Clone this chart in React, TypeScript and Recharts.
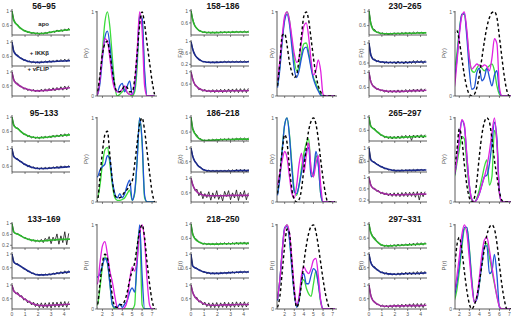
import { LineChart, Line, XAxis, YAxis } from "recharts";

// time axis of the DEER traces (µs) and distance axis of the P(r) curves (nm)
const traceTimes = [0, 0.15, 0.3, 0.45, 0.6, 0.75, 0.9, 1.05, 1.2, 1.35, 1.5, 1.65, 1.8, 1.95, 2.1, 2.25, 2.4, 2.55, 2.7, 2.85, 3, 3.15, 3.3, 3.45, 3.6, 3.75, 3.9, 4.05, 4.2, 4.35];
const fitTimes = [0, 0.1, 0.2, 0.35, 0.5, 0.75, 1, 1.5, 2, 2.5, 3, 3.5, 4, 4.45];
const distances = [1.25, 1.5, 1.75, 2, 2.25, 2.5, 2.75, 3, 3.25, 3.5, 3.75, 4, 4.25, 4.5, 4.75, 5, 5.25, 5.5, 5.75, 6, 6.25, 6.5, 6.75, 7, 7.25];

const sampleNames = ["apo", "+ IKKβ", "+ vFLIP"];
const timeTicks = [0, 1, 2, 3, 4];
const distTicks = [2, 3, 4, 5, 6, 7];

// ---- 56–95 ----
const raw56 = [
  [1, 0.76, 0.64, 0.62, 0.53, 0.52, 0.45, 0.46, 0.41, 0.42, 0.38, 0.41, 0.37, 0.4, 0.36, 0.4, 0.37, 0.41, 0.38, 0.43, 0.4, 0.45, 0.41, 0.48, 0.43, 0.49, 0.44, 0.51, 0.45, 0.53],
  [1, 0.75, 0.66, 0.64, 0.56, 0.56, 0.49, 0.51, 0.45, 0.48, 0.43, 0.47, 0.42, 0.46, 0.42, 0.47, 0.43, 0.48, 0.43, 0.49, 0.44, 0.49, 0.45, 0.51, 0.45, 0.52, 0.46, 0.53, 0.46, 0.54],
  [1, 0.78, 0.68, 0.67, 0.58, 0.58, 0.5, 0.53, 0.46, 0.5, 0.44, 0.49, 0.42, 0.48, 0.42, 0.5, 0.43, 0.51, 0.44, 0.52, 0.45, 0.54, 0.45, 0.55, 0.47, 0.57, 0.47, 0.59, 0.48, 0.6],
];
const fit56 = [
  [1, 0.78, 0.7, 0.64, 0.58, 0.5, 0.45, 0.4, 0.38, 0.39, 0.42, 0.45, 0.47, 0.49],
  [1, 0.78, 0.7, 0.64, 0.6, 0.54, 0.5, 0.45, 0.44, 0.45, 0.46, 0.47, 0.48, 0.49],
  [1, 0.8, 0.72, 0.66, 0.62, 0.56, 0.52, 0.47, 0.45, 0.46, 0.48, 0.5, 0.52, 0.54],
];
const pr56 = [
  [0, 0.02, 0.2, 0.55, 0.88, 1.0, 0.82, 0.45, 0.12, 0, 0.02, 0.05, 0.08, 0.04, 0.02, 0, 0.05, 0.35, 0.97, 0.9, 0.25, 0, 0, 0, 0],
  [0, 0.02, 0.15, 0.45, 0.7, 0.77, 0.6, 0.3, 0.1, 0.05, 0.12, 0.15, 0.05, 0.12, 0.18, 0.02, 0.1, 0.45, 0.95, 0.92, 0.3, 0, 0, 0, 0],
  [0, 0.02, 0.2, 0.5, 0.68, 0.65, 0.45, 0.2, 0.08, 0.05, 0.05, 0.08, 0.12, 0.04, 0.02, 0.02, 0.15, 0.55, 1.0, 0.78, 0.12, 0, 0, 0, 0],
  [0, 0.05, 0.25, 0.5, 0.62, 0.65, 0.5, 0.3, 0.12, 0.05, 0.05, 0.08, 0.12, 0.1, 0.05, 0.05, 0.2, 0.5, 0.85, 1.0, 0.85, 0.62, 0.4, 0.18, 0.02],
];

// ---- 95–133 (no vFLIP data) ----
const raw95 = [
  [1, 0.79, 0.69, 0.7, 0.62, 0.6, 0.52, 0.53, 0.46, 0.49, 0.42, 0.46, 0.41, 0.45, 0.4, 0.46, 0.42, 0.47, 0.42, 0.48, 0.43, 0.5, 0.44, 0.51, 0.45, 0.53, 0.46, 0.54, 0.47, 0.55],
  [1, 0.83, 0.76, 0.77, 0.7, 0.71, 0.64, 0.65, 0.59, 0.62, 0.56, 0.59, 0.54, 0.57, 0.53, 0.57, 0.53, 0.58, 0.54, 0.58, 0.54, 0.59, 0.55, 0.6, 0.55, 0.61, 0.56, 0.61, 0.57, 0.62],
];
const fit95 = [
  [1, 0.8, 0.74, 0.7, 0.66, 0.58, 0.52, 0.45, 0.43, 0.44, 0.46, 0.48, 0.5, 0.51],
  [1, 0.84, 0.8, 0.77, 0.74, 0.69, 0.64, 0.58, 0.55, 0.55, 0.56, 0.57, 0.58, 0.59],
];
const pr95 = [
  [0.05, 0.05, 0.2, 0.45, 0.62, 0.65, 0.45, 0.2, 0.05, 0.02, 0.02, 0.03, 0.05, 0.1, 0.14, 0.02, 0.1, 0.5, 1.0, 0.7, 0.05, 0, 0, 0, 0],
  [0.3, 0.3, 0.38, 0.42, 0.45, 0.55, 0.5, 0.25, 0.1, 0.05, 0.1, 0.05, 0.1, 0.2, 0.26, 0.02, 0.12, 0.5, 1.0, 0.72, 0.08, 0, 0, 0, 0],
  null,
  [0, 0.02, 0.3, 0.6, 0.8, 0.84, 0.55, 0.25, 0.08, 0.05, 0.05, 0.08, 0.12, 0.15, 0.2, 0.25, 0.45, 0.7, 0.92, 1.0, 0.85, 0.6, 0.35, 0.12, 0],
];

// ---- 133–169 ----
const raw133 = [
  [1, 0.7, 0.62, 0.63, 0.56, 0.55, 0.47, 0.48, 0.41, 0.43, 0.36, 0.4, 0.33, 0.39, 0.32, 0.42, 0.3, 0.46, 0.35, 0.52, 0.26, 0.5, 0.36, 0.62, 0.24, 0.55, 0.3, 0.7, 0.22, 0.64],
  [1, 0.78, 0.7, 0.72, 0.65, 0.64, 0.56, 0.56, 0.49, 0.5, 0.43, 0.45, 0.39, 0.41, 0.37, 0.41, 0.37, 0.42, 0.38, 0.43, 0.38, 0.45, 0.4, 0.47, 0.41, 0.49, 0.42, 0.51, 0.43, 0.52],
  [1, 0.84, 0.74, 0.78, 0.66, 0.69, 0.56, 0.6, 0.48, 0.54, 0.42, 0.5, 0.37, 0.47, 0.34, 0.48, 0.33, 0.48, 0.34, 0.49, 0.33, 0.5, 0.35, 0.5, 0.35, 0.51, 0.36, 0.52, 0.35, 0.52],
];
const fit133 = [
  [1, 0.72, 0.66, 0.63, 0.6, 0.53, 0.47, 0.39, 0.36, 0.37, 0.39, 0.41, 0.42, 0.43],
  [1, 0.8, 0.74, 0.71, 0.68, 0.62, 0.56, 0.45, 0.39, 0.39, 0.41, 0.44, 0.46, 0.48],
  [1, 0.85, 0.8, 0.76, 0.72, 0.65, 0.58, 0.47, 0.41, 0.4, 0.41, 0.42, 0.43, 0.44],
];
const pr133 = [
  [0.05, 0.05, 0.25, 0.5, 0.62, 0.55, 0.3, 0.05, 0, 0, 0, 0, 0, 0, 0, 0, 0.05, 0.7, 0.95, 0.05, 0, 0, 0, 0, 0],
  [0.38, 0.38, 0.42, 0.52, 0.6, 0.55, 0.3, 0.05, 0.02, 0.02, 0.06, 0.02, 0.06, 0.1, 0.2, 0.25, 0.2, 0.55, 1.0, 0.4, 0, 0, 0, 0, 0],
  [0.3, 0.3, 0.55, 0.75, 0.8, 0.65, 0.45, 0.32, 0.15, 0.02, 0, 0, 0.02, 0.1, 0.35, 0.5, 0.45, 0.6, 0.9, 1.0, 0.8, 0.35, 0.05, 0, 0],
  [0, 0.05, 0.3, 0.55, 0.65, 0.6, 0.4, 0.15, 0.03, 0.02, 0.05, 0.05, 0.1, 0.2, 0.35, 0.45, 0.55, 0.75, 0.92, 1.0, 0.85, 0.55, 0.3, 0.1, 0],
];

// ---- 158–186 ----
const raw158 = [
  [1, 0.7, 0.48, 0.42, 0.33, 0.34, 0.28, 0.31, 0.26, 0.3, 0.26, 0.3, 0.26, 0.3, 0.27, 0.31, 0.27, 0.31, 0.27, 0.31, 0.27, 0.32, 0.28, 0.32, 0.28, 0.32, 0.28, 0.33, 0.28, 0.33],
  [1, 0.72, 0.51, 0.45, 0.35, 0.35, 0.28, 0.3, 0.26, 0.29, 0.25, 0.29, 0.25, 0.3, 0.26, 0.3, 0.26, 0.31, 0.26, 0.31, 0.26, 0.31, 0.27, 0.31, 0.27, 0.32, 0.27, 0.32, 0.27, 0.32],
  [1, 0.75, 0.55, 0.53, 0.41, 0.45, 0.36, 0.43, 0.34, 0.41, 0.33, 0.42, 0.32, 0.42, 0.33, 0.43, 0.32, 0.43, 0.33, 0.44, 0.32, 0.44, 0.33, 0.45, 0.32, 0.45, 0.33, 0.45, 0.32, 0.46],
];
const fit158 = [
  [1, 0.75, 0.6, 0.47, 0.39, 0.32, 0.29, 0.28, 0.28, 0.29, 0.29, 0.3, 0.3, 0.3],
  [1, 0.78, 0.63, 0.5, 0.42, 0.33, 0.29, 0.27, 0.27, 0.28, 0.28, 0.28, 0.28, 0.29],
  [1, 0.8, 0.67, 0.56, 0.49, 0.42, 0.39, 0.37, 0.37, 0.37, 0.38, 0.38, 0.38, 0.39],
];
const pr158 = [
  [0.12, 0.35, 0.68, 0.92, 1.0, 0.9, 0.65, 0.42, 0.3, 0.35, 0.5, 0.62, 0.63, 0.52, 0.35, 0.22, 0.15, 0.08, 0.02, 0, 0, 0, 0, 0, 0],
  [0.1, 0.32, 0.65, 0.9, 0.97, 0.85, 0.58, 0.32, 0.22, 0.3, 0.45, 0.56, 0.58, 0.48, 0.33, 0.2, 0.12, 0.06, 0.01, 0, 0, 0, 0, 0, 0],
  [0.18, 0.42, 0.72, 0.95, 1.0, 0.9, 0.7, 0.5, 0.4, 0.45, 0.65, 0.83, 0.87, 0.7, 0.42, 0.25, 0.3, 0.43, 0.3, 0.02, 0, 0, 0, 0, 0],
  [0.12, 0.4, 0.72, 0.74, 0.6, 0.4, 0.28, 0.22, 0.25, 0.45, 0.72, 0.95, 1.0, 0.9, 0.68, 0.45, 0.25, 0.12, 0.05, 0, 0, 0, 0, 0, 0],
];

// ---- 186–218 ----
const raw186 = [
  [1, 0.69, 0.56, 0.52, 0.42, 0.42, 0.36, 0.39, 0.35, 0.4, 0.36, 0.41, 0.37, 0.41, 0.37, 0.42, 0.38, 0.42, 0.38, 0.43, 0.38, 0.43, 0.38, 0.44, 0.39, 0.44, 0.39, 0.44, 0.39, 0.44],
  [1, 0.75, 0.6, 0.55, 0.45, 0.44, 0.36, 0.37, 0.31, 0.36, 0.3, 0.36, 0.3, 0.36, 0.3, 0.36, 0.3, 0.36, 0.3, 0.37, 0.3, 0.37, 0.3, 0.38, 0.3, 0.38, 0.31, 0.38, 0.3, 0.38],
  [1, 0.82, 0.66, 0.7, 0.52, 0.64, 0.44, 0.58, 0.47, 0.63, 0.4, 0.6, 0.45, 0.66, 0.42, 0.55, 0.38, 0.64, 0.5, 0.66, 0.41, 0.6, 0.46, 0.68, 0.39, 0.62, 0.48, 0.66, 0.41, 0.6],
];
const fit186 = [
  [1, 0.72, 0.62, 0.53, 0.46, 0.4, 0.37, 0.38, 0.39, 0.4, 0.4, 0.41, 0.41, 0.41],
  [1, 0.8, 0.68, 0.58, 0.5, 0.42, 0.36, 0.33, 0.33, 0.33, 0.33, 0.34, 0.34, 0.34],
  [1, 0.85, 0.76, 0.67, 0.61, 0.56, 0.53, 0.52, 0.52, 0.52, 0.53, 0.53, 0.53, 0.53],
];
const pr186 = [
  [0.1, 0.3, 0.65, 0.92, 1.0, 0.8, 0.45, 0.15, 0.08, 0.2, 0.4, 0.58, 0.7, 0.75, 0.38, 0.3, 0.55, 0.45, 0.1, 0, 0, 0, 0, 0, 0],
  [0.08, 0.28, 0.62, 0.92, 1.0, 0.78, 0.4, 0.12, 0.1, 0.2, 0.35, 0.5, 0.6, 0.65, 0.3, 0.35, 0.6, 0.45, 0.1, 0, 0, 0, 0, 0, 0],
  [0.2, 0.35, 0.5, 0.6, 0.52, 0.3, 0.1, 0.05, 0.2, 0.45, 0.58, 0.35, 0.55, 0.7, 0.4, 0.3, 0.45, 0.55, 0.2, 0, 0, 0, 0, 0, 0],
  [0.1, 0.35, 0.62, 0.8, 0.7, 0.4, 0.15, 0.03, 0, 0.03, 0.15, 0.4, 0.65, 0.85, 0.96, 1.0, 0.93, 0.75, 0.5, 0.28, 0.1, 0, 0, 0, 0],
];

// ---- 218–250 ----
const raw218 = [
  [1, 0.72, 0.59, 0.57, 0.49, 0.49, 0.43, 0.47, 0.42, 0.46, 0.42, 0.46, 0.42, 0.47, 0.42, 0.47, 0.43, 0.48, 0.42, 0.48, 0.43, 0.48, 0.43, 0.49, 0.43, 0.49, 0.44, 0.5, 0.43, 0.5],
  [1, 0.67, 0.6, 0.61, 0.55, 0.55, 0.49, 0.51, 0.45, 0.49, 0.44, 0.48, 0.44, 0.48, 0.44, 0.49, 0.45, 0.49, 0.45, 0.5, 0.46, 0.51, 0.46, 0.51, 0.47, 0.52, 0.47, 0.52, 0.48, 0.52],
  [1, 0.78, 0.63, 0.64, 0.5, 0.54, 0.42, 0.5, 0.37, 0.48, 0.34, 0.48, 0.34, 0.49, 0.34, 0.48, 0.35, 0.5, 0.34, 0.49, 0.35, 0.5, 0.35, 0.51, 0.36, 0.5, 0.35, 0.51, 0.36, 0.5],
];
const fit218 = [
  [1, 0.75, 0.65, 0.57, 0.52, 0.47, 0.45, 0.44, 0.44, 0.45, 0.45, 0.46, 0.46, 0.46],
  [1, 0.68, 0.64, 0.61, 0.58, 0.53, 0.5, 0.46, 0.46, 0.47, 0.48, 0.49, 0.5, 0.5],
  [1, 0.82, 0.72, 0.63, 0.57, 0.5, 0.45, 0.41, 0.41, 0.42, 0.42, 0.43, 0.43, 0.43],
];
const pr218 = [
  [0.12, 0.35, 0.68, 0.95, 1.0, 0.85, 0.5, 0.2, 0.03, 0.1, 0.3, 0.35, 0.25, 0.18, 0.15, 0.3, 0.45, 0.3, 0.08, 0, 0, 0, 0, 0, 0],
  [0.1, 0.35, 0.7, 0.97, 0.98, 0.82, 0.48, 0.18, 0.02, 0.12, 0.35, 0.42, 0.3, 0.3, 0.4, 0.48, 0.45, 0.3, 0.1, 0, 0, 0, 0, 0, 0],
  [0.12, 0.35, 0.7, 0.95, 1.0, 0.9, 0.6, 0.25, 0.05, 0.15, 0.4, 0.5, 0.45, 0.42, 0.48, 0.58, 0.6, 0.4, 0.1, 0, 0, 0, 0, 0, 0],
  [0.02, 0.15, 0.45, 0.75, 0.95, 0.9, 0.55, 0.2, 0.02, 0.1, 0.3, 0.55, 0.75, 0.9, 0.98, 1.0, 0.92, 0.75, 0.55, 0.35, 0.18, 0.06, 0, 0, 0],
];

// ---- 230–265 ----
const raw230 = [
  [1, 0.67, 0.5, 0.49, 0.41, 0.42, 0.37, 0.4, 0.36, 0.39, 0.35, 0.39, 0.36, 0.4, 0.36, 0.4, 0.36, 0.41, 0.37, 0.41, 0.37, 0.41, 0.37, 0.42, 0.38, 0.42, 0.38, 0.42, 0.38, 0.42],
  [1, 0.77, 0.67, 0.68, 0.62, 0.65, 0.6, 0.64, 0.59, 0.63, 0.59, 0.63, 0.59, 0.63, 0.58, 0.64, 0.59, 0.63, 0.58, 0.64, 0.59, 0.64, 0.59, 0.65, 0.59, 0.65, 0.6, 0.65, 0.59, 0.65],
  [1, 0.76, 0.64, 0.63, 0.55, 0.57, 0.51, 0.54, 0.48, 0.53, 0.47, 0.53, 0.47, 0.53, 0.47, 0.54, 0.47, 0.54, 0.48, 0.55, 0.47, 0.55, 0.48, 0.56, 0.48, 0.56, 0.49, 0.57, 0.49, 0.57],
];
const fit230 = [
  [1, 0.72, 0.58, 0.48, 0.44, 0.4, 0.38, 0.37, 0.38, 0.38, 0.39, 0.39, 0.4, 0.4],
  [1, 0.8, 0.72, 0.67, 0.65, 0.63, 0.62, 0.61, 0.61, 0.61, 0.61, 0.62, 0.62, 0.62],
  [1, 0.8, 0.7, 0.63, 0.59, 0.55, 0.53, 0.5, 0.5, 0.5, 0.51, 0.52, 0.52, 0.53],
];
const pr230 = [
  [0.3, 0.32, 0.5, 0.78, 0.97, 0.97, 0.75, 0.45, 0.3, 0.28, 0.33, 0.37, 0.33, 0.3, 0.33, 0.36, 0.38, 0.3, 0.12, 0.02, 0, 0, 0, 0, 0],
  [0.15, 0.2, 0.42, 0.75, 0.97, 0.98, 0.7, 0.3, 0.08, 0.1, 0.28, 0.33, 0.18, 0.22, 0.33, 0.22, 0.12, 0.25, 0.3, 0.05, 0, 0, 0, 0, 0],
  [0.05, 0.1, 0.38, 0.72, 0.95, 1.0, 0.78, 0.45, 0.32, 0.35, 0.38, 0.36, 0.35, 0.37, 0.35, 0.3, 0.45, 0.68, 0.62, 0.1, 0, 0, 0, 0, 0],
  [0.6, 0.75, 0.78, 0.65, 0.45, 0.25, 0.1, 0.02, 0, 0.02, 0.1, 0.25, 0.45, 0.65, 0.82, 0.93, 0.99, 1.0, 0.93, 0.7, 0.45, 0.22, 0.06, 0, 0],
];

// ---- 265–297 ----
const raw265 = [
  [1, 0.73, 0.65, 0.65, 0.55, 0.54, 0.45, 0.46, 0.38, 0.42, 0.35, 0.42, 0.34, 0.42, 0.35, 0.43, 0.35, 0.44, 0.36, 0.45, 0.36, 0.45, 0.3, 0.46, 0.37, 0.46, 0.37, 0.47, 0.37, 0.47],
  [1, 0.66, 0.58, 0.58, 0.5, 0.5, 0.43, 0.44, 0.37, 0.39, 0.34, 0.36, 0.32, 0.35, 0.3, 0.34, 0.3, 0.35, 0.31, 0.35, 0.31, 0.35, 0.31, 0.36, 0.31, 0.36, 0.32, 0.36, 0.32, 0.36],
  [1, 0.74, 0.61, 0.62, 0.51, 0.54, 0.43, 0.48, 0.38, 0.46, 0.35, 0.45, 0.33, 0.46, 0.33, 0.46, 0.32, 0.47, 0.33, 0.48, 0.32, 0.48, 0.33, 0.49, 0.3, 0.5, 0.2, 0.49, 0.32, 0.5],
];
const fit265 = [
  [1, 0.75, 0.69, 0.65, 0.6, 0.52, 0.45, 0.39, 0.38, 0.39, 0.4, 0.41, 0.42, 0.42],
  [1, 0.68, 0.62, 0.58, 0.54, 0.48, 0.43, 0.36, 0.32, 0.32, 0.33, 0.33, 0.34, 0.34],
  [1, 0.78, 0.68, 0.62, 0.57, 0.5, 0.45, 0.4, 0.39, 0.39, 0.4, 0.4, 0.41, 0.41],
];
const pr265 = [
  [0.3, 0.3, 0.45, 0.62, 0.78, 0.75, 0.45, 0.15, 0.02, 0, 0.05, 0.15, 0.28, 0.42, 0.5, 0.2, 0.3, 0.85, 0.7, 0.1, 0, 0, 0, 0, 0],
  [0.3, 0.32, 0.5, 0.75, 0.97, 0.9, 0.55, 0.2, 0.03, 0, 0.03, 0.1, 0.2, 0.3, 0.32, 0.45, 0.7, 0.95, 0.75, 0.12, 0, 0, 0, 0, 0],
  [0.3, 0.32, 0.5, 0.75, 0.98, 0.92, 0.55, 0.2, 0.03, 0, 0.03, 0.1, 0.2, 0.3, 0.42, 0.6, 0.82, 1.0, 0.7, 0.1, 0, 0, 0, 0, 0],
  [0.25, 0.4, 0.6, 0.87, 0.75, 0.45, 0.2, 0.05, 0, 0.05, 0.25, 0.55, 0.8, 0.95, 1.0, 0.95, 0.75, 0.5, 0.3, 0.12, 0.02, 0, 0, 0, 0],
];

// ---- 297–331 ----
const raw297 = [
  [1, 0.76, 0.64, 0.61, 0.51, 0.48, 0.4, 0.41, 0.36, 0.4, 0.35, 0.41, 0.36, 0.42, 0.36, 0.43, 0.37, 0.43, 0.38, 0.44, 0.38, 0.45, 0.39, 0.46, 0.39, 0.47, 0.4, 0.47, 0.4, 0.48],
  [1, 0.76, 0.63, 0.63, 0.53, 0.53, 0.45, 0.48, 0.41, 0.46, 0.39, 0.44, 0.38, 0.44, 0.38, 0.45, 0.38, 0.46, 0.39, 0.47, 0.39, 0.47, 0.39, 0.48, 0.4, 0.49, 0.4, 0.49, 0.41, 0.5],
  [1, 0.7, 0.54, 0.52, 0.43, 0.44, 0.37, 0.42, 0.35, 0.41, 0.34, 0.42, 0.34, 0.43, 0.35, 0.43, 0.34, 0.44, 0.35, 0.44, 0.35, 0.45, 0.35, 0.46, 0.34, 0.46, 0.35, 0.46, 0.34, 0.47],
];
const fit297 = [
  [1, 0.8, 0.7, 0.61, 0.55, 0.46, 0.4, 0.38, 0.39, 0.4, 0.41, 0.42, 0.43, 0.44],
  [1, 0.8, 0.7, 0.63, 0.58, 0.51, 0.46, 0.42, 0.41, 0.42, 0.43, 0.43, 0.44, 0.45],
  [1, 0.75, 0.62, 0.53, 0.48, 0.42, 0.39, 0.38, 0.39, 0.39, 0.4, 0.4, 0.4, 0.41],
];
const pr297 = [
  [0.05, 0.1, 0.22, 0.45, 0.72, 0.95, 0.97, 0.72, 0.35, 0.1, 0.12, 0.3, 0.55, 0.74, 0.78, 0.62, 0.45, 0.3, 0.15, 0.03, 0, 0, 0, 0, 0],
  [0.08, 0.15, 0.3, 0.52, 0.78, 0.97, 0.97, 0.7, 0.32, 0.08, 0.12, 0.3, 0.55, 0.75, 0.75, 0.42, 0.45, 0.65, 0.4, 0.02, 0, 0, 0, 0, 0],
  [0.12, 0.2, 0.38, 0.62, 0.88, 1.0, 0.9, 0.6, 0.28, 0.08, 0.15, 0.38, 0.65, 0.82, 0.85, 0.7, 0.5, 0.32, 0.15, 0.03, 0, 0, 0, 0, 0],
  [0.3, 0.45, 0.75, 0.85, 0.7, 0.45, 0.22, 0.06, 0, 0.05, 0.15, 0.32, 0.52, 0.72, 0.88, 0.97, 1.0, 0.95, 0.78, 0.52, 0.28, 0.1, 0, 0, 0],
];

// ---- layout ----
const ftColors = ["#2cb52c", "#1b2a8e", "#a02aa0"];
const prColors = ["#3bdc3b", "#1f55d6", "#e020e0"];
const axisColor = "#333";
const tickFont = { fontSize: 5, fill: "#555" };

const rowTop = [0, 106, 212.5];
const ftLeft = [12, 191, 369];
const ftMaxT = [4.45, 4.4, 4.5];
const prLeft = [97, 277, 455];
const prWidth = [60, 60, 59];
const prRange = [[1.45, 7.5], [1.2, 7.45], [1.57, 7.45]];
const titleX = [44, 223, 405];
const titleY = [6, 113, 219];

type Block = { title: string; raw: number[][]; fit: number[][]; pr: (number[] | null)[]; yMin: number[]; row: number; col: number };

const blocks: Block[] = [
  { title: "56–95", raw: raw56, fit: fit56, pr: pr56, yMin: [0.34, 0.34, 0.3], row: 0, col: 0 },
  { title: "158–186", raw: raw158, fit: fit158, pr: pr158, yMin: [0.2, 0.14, 0.21], row: 0, col: 1 },
  { title: "230–265", raw: raw230, fit: fit230, pr: pr230, yMin: [0.34, 0.54, 0.38], row: 0, col: 2 },
  { title: "95–133", raw: raw95, fit: fit95, pr: pr95, yMin: [0.34, 0.47], row: 1, col: 0 },
  { title: "186–218", raw: raw186, fit: fit186, pr: pr186, yMin: [0.36, 0.3, 0.35], row: 1, col: 1 },
  { title: "265–297", raw: raw265, fit: fit265, pr: pr265, yMin: [0.28, 0.28, 0.13], row: 1, col: 2 },
  { title: "133–169", raw: raw133, fit: fit133, pr: pr133, yMin: [0.1, 0.3, 0.3], row: 2, col: 0 },
  { title: "218–250", raw: raw218, fit: fit218, pr: pr218, yMin: [0.33, 0.33, 0.3], row: 2, col: 1 },
  { title: "297–331", raw: raw297, fit: fit297, pr: pr297, yMin: [0.32, 0.3, 0.3], row: 2, col: 2 },
];

const Y_AXIS_W = 14;
const TOP_PAD = 3;

function DecayPanel(props: { left: number; top: number; yMin: number; xMax: number; raw: number[]; fit: number[]; color: string; labels: boolean }) {
  const { left, top, yMin, xMax, raw, fit, color, labels } = props;
  const width = 58;
  const height = 26;
  const xh = labels ? 9 : 3;
  const rawData = traceTimes.map((t, i) => ({ t, v: raw[i] }));
  const fitData = fitTimes.map((t, i) => ({ t, v: fit[i] }));
  const yTicks = [0.2, 0.4, 0.6, 0.8, 1].filter((v) => v >= yMin + 0.03);
  return (
    <div style={{ position: "absolute", left: left - Y_AXIS_W, top: top - TOP_PAD }}>
      <LineChart width={width + Y_AXIS_W + 2} height={height + TOP_PAD + xh} margin={{ top: TOP_PAD, right: 2, bottom: 0, left: 0 }}>
        <XAxis dataKey="t" type="number" domain={[0, xMax]} ticks={timeTicks} allowDataOverflow height={xh}
          tickSize={2} tickMargin={1} tick={tickFont} tickFormatter={(v) => (labels ? String(v) : "")}
          axisLine={{ stroke: axisColor, strokeWidth: 0.8 }} tickLine={{ stroke: axisColor, strokeWidth: 0.6 }} />
        <YAxis type="number" domain={[yMin, 1.06]} ticks={yTicks} allowDataOverflow width={Y_AXIS_W}
          tickSize={2} tickMargin={1} tick={tickFont}
          axisLine={{ stroke: axisColor, strokeWidth: 0.8 }} tickLine={{ stroke: axisColor, strokeWidth: 0.6 }} />
        <Line data={rawData} dataKey="v" type="linear" stroke="#111" strokeWidth={0.8} dot={false} isAnimationActive={false} />
        <Line data={fitData} dataKey="v" type="monotone" stroke={color} strokeWidth={1.6} dot={false} isAnimationActive={false} />
      </LineChart>
    </div>
  );
}

function DistancePanel(props: { left: number; top: number; width: number; range: number[]; curves: (number[] | null)[]; labels: boolean }) {
  const { left, top, width, range, curves, labels } = props;
  const height = 85;
  const xh = labels ? 9 : 3;
  const series = curves.map((c) => (c ? distances.map((r, i) => ({ r, v: c[i] })) : null));
  return (
    <div style={{ position: "absolute", left: left - Y_AXIS_W, top: top - TOP_PAD }}>
      <LineChart width={width + Y_AXIS_W + 2} height={height + TOP_PAD + xh} margin={{ top: TOP_PAD, right: 2, bottom: 0, left: 0 }}>
        <XAxis dataKey="r" type="number" domain={range} ticks={distTicks} allowDataOverflow height={xh}
          tickSize={2} tickMargin={1} tick={tickFont} tickFormatter={(v) => (labels ? String(v) : "")}
          axisLine={{ stroke: axisColor, strokeWidth: 0.8 }} tickLine={{ stroke: axisColor, strokeWidth: 0.6 }} />
        <YAxis type="number" domain={[0, 1.01]} ticks={[0, 1]} allowDataOverflow width={Y_AXIS_W}
          tickSize={2} tickMargin={1} tick={tickFont}
          axisLine={{ stroke: axisColor, strokeWidth: 0.8 }} tickLine={{ stroke: axisColor, strokeWidth: 0.6 }} />
        {series.slice(0, 3).map((d, i) =>
          d ? <Line key={i} data={d} dataKey="v" type="monotone" stroke={prColors[i]} strokeWidth={1.3} dot={false} isAnimationActive={false} /> : null
        )}
        {series[3] && (
          <Line data={series[3]} dataKey="v" type="monotone" stroke="#000" strokeWidth={1.4} strokeDasharray="3 2.5" dot={false} isAnimationActive={false} />
        )}
      </LineChart>
    </div>
  );
}

export default function App() {
  return (
    <div style={{ position: "absolute", left: 0, top: 0, width: 511, height: 319, overflow: "hidden", background: "#fff", fontFamily: "'Liberation Sans', Arial, sans-serif" }}>
      {blocks.map((b) => {
        const base = rowTop[b.row];
        return (
          <div key={b.title}>
            {b.raw.map((raw, i) => (
              <DecayPanel key={i} left={ftLeft[b.col]} top={base + 9 + 30.5 * i} yMin={b.yMin[i]} xMax={ftMaxT[b.col]}
                raw={raw} fit={b.fit[i]} color={ftColors[i]} labels={b.row === 2 && i === 2} />
            ))}
            <DistancePanel left={prLeft[b.col]} top={base + 11} width={prWidth[b.col]} range={prRange[b.col]} curves={b.pr} labels={b.row === 2} />
          </div>
        );
      })}
      <svg width={511} height={319} style={{ position: "absolute", left: 0, top: 0, pointerEvents: "none" }}>
        {blocks.map((b) => (
          <text key={b.title} x={titleX[b.col]} y={titleY[b.row]} textAnchor="middle" dominantBaseline="central" fontSize={8.5} fontWeight="bold" fill="#111">
            {b.title}
          </text>
        ))}
        {rowTop.map((base, r) => (
          <g key={r}>
            {[180, 361].map((x) => (
              <text key={x} x={x} y={base + 53} transform={`rotate(-90 ${x} ${base + 53})`} textAnchor="middle" dominantBaseline="central" fontSize={6} fill="#555">F(t)</text>
            ))}
            {[86, 272, 444].map((x) => (
              <text key={x} x={x} y={base + 53} transform={`rotate(-90 ${x} ${base + 53})`} textAnchor="middle" dominantBaseline="central" fontSize={6} fill="#555">P(r)</text>
            ))}
          </g>
        ))}
        {sampleNames.map((name, i) => (
          <text key={name} x={49} y={[24, 53, 69][i]} textAnchor="end" dominantBaseline="central" fontSize={6} fontWeight="bold" fill="#222">
            {name}
          </text>
        ))}
      </svg>
    </div>
  );
}
